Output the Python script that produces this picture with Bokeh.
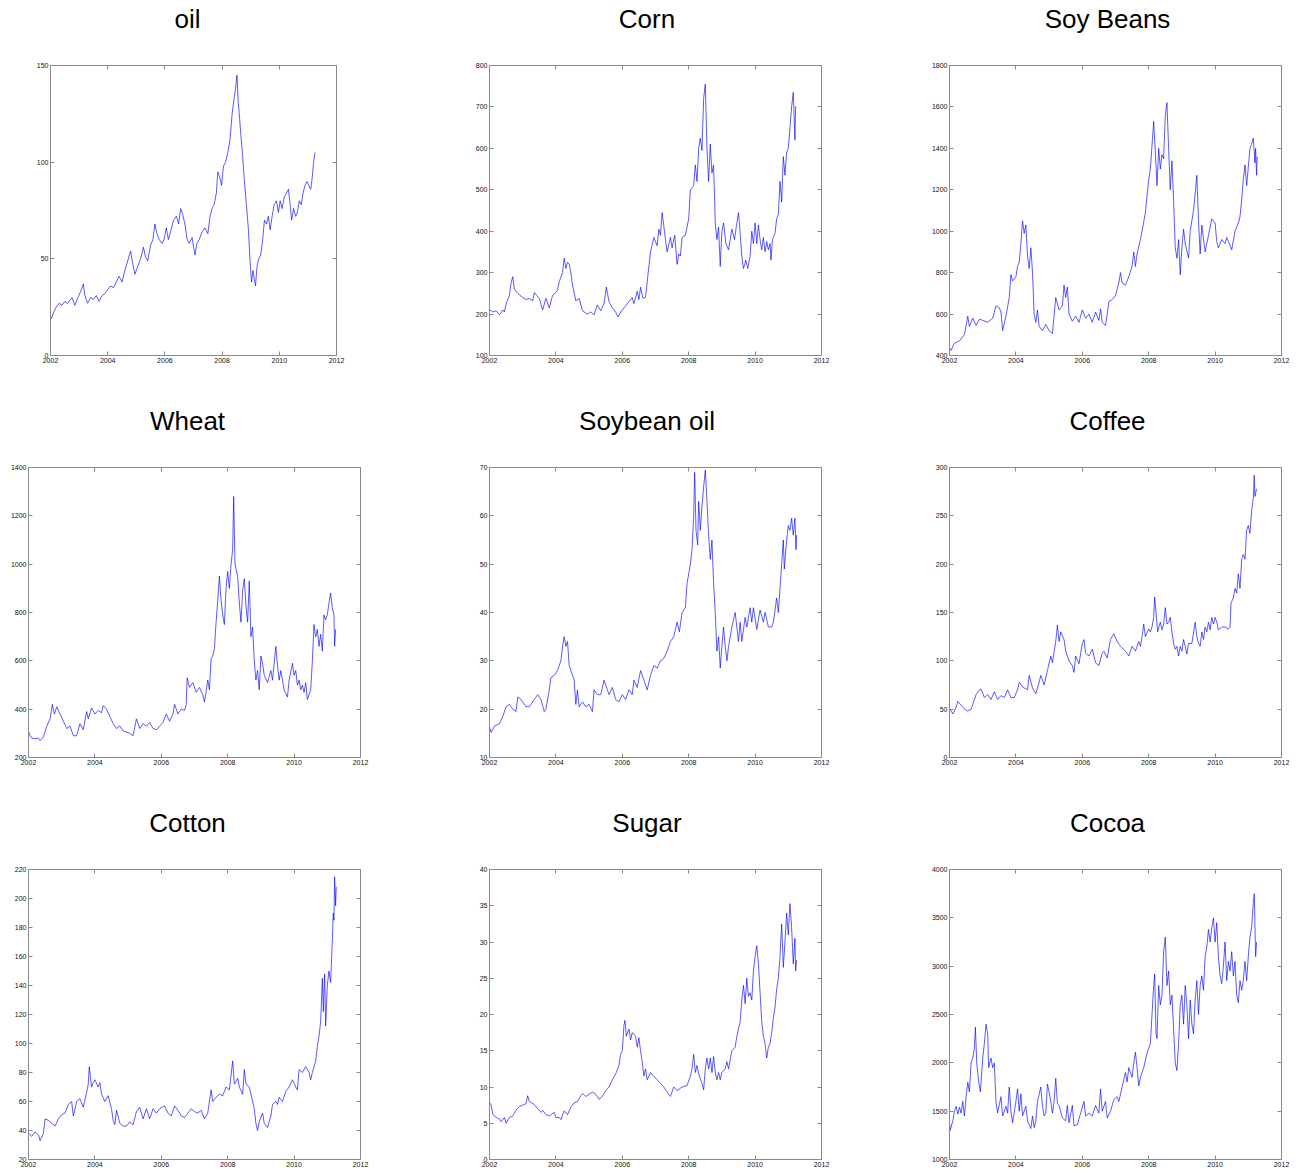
from bokeh.plotting import figure
from bokeh.models import Range1d, LinearAxis, FixedTicker, Label
from bokeh.layouts import column, row
from bokeh.embed import file_html
from bokeh.resources import INLINE

# ---------------- data ----------------
x_ticks = [2002, 2004, 2006, 2008, 2010, 2012]

oil_t = [2002.0, 2002.03, 2002.1, 2002.2, 2002.3, 2002.4, 2002.5, 2002.6, 2002.75, 2002.85, 2002.93, 2003.05, 2003.15, 2003.2, 2003.3, 2003.4, 2003.5, 2003.6, 2003.7, 2003.8, 2003.9, 2004.0, 2004.1, 2004.2, 2004.3, 2004.4, 2004.5, 2004.6, 2004.7, 2004.8, 2004.87, 2004.95, 2005.05, 2005.15, 2005.25, 2005.32, 2005.4, 2005.5, 2005.58, 2005.65, 2005.72, 2005.8, 2005.9, 2005.97, 2006.05, 2006.12, 2006.2, 2006.3, 2006.4, 2006.48, 2006.55, 2006.62, 2006.7, 2006.78, 2006.85, 2006.95, 2007.05, 2007.12, 2007.2, 2007.3, 2007.4, 2007.5, 2007.58, 2007.65, 2007.72, 2007.8, 2007.85, 2007.92, 2007.98, 2008.05, 2008.12, 2008.2, 2008.28, 2008.35, 2008.42, 2008.47, 2008.52, 2008.56, 2008.6, 2008.65, 2008.72, 2008.78, 2008.85, 2008.92, 2008.98, 2009.03, 2009.08, 2009.12, 2009.17, 2009.22, 2009.28, 2009.35, 2009.42, 2009.48, 2009.55, 2009.62, 2009.68, 2009.75, 2009.82, 2009.9, 2009.97, 2010.03, 2010.1, 2010.17, 2010.25, 2010.32, 2010.38, 2010.43, 2010.5, 2010.57, 2010.63, 2010.7, 2010.77, 2010.83, 2010.9, 2010.97, 2011.03, 2011.1, 2011.15, 2011.2, 2011.25]
oil_v = [20, 19, 22, 25, 27, 26, 28, 27, 30, 26, 29, 33, 37, 31, 27, 30, 29, 31, 28, 31, 32, 34, 36, 35, 38, 41, 38, 44, 49, 54, 48, 42, 46, 50, 56, 51, 49, 57, 60, 68, 63, 60, 58, 60, 66, 60, 64, 70, 72, 68, 76, 73, 68, 60, 58, 61, 52, 58, 60, 64, 66, 63, 72, 76, 78, 84, 95, 92, 88, 98, 100, 105, 112, 125, 133, 138, 145, 132, 125, 115, 103, 90, 78, 65, 48, 38, 44, 40, 36, 46, 50, 52, 60, 70, 68, 72, 65, 72, 78, 80, 74, 80, 76, 82, 84, 86, 78, 70, 76, 72, 74, 80, 78, 84, 88, 90, 88, 86, 92, 100, 105]

corn_t = [2002.0, 2002.1, 2002.2, 2002.3, 2002.4, 2002.45, 2002.5, 2002.6, 2002.65, 2002.7, 2002.75, 2002.85, 2003.0, 2003.1, 2003.2, 2003.3, 2003.35, 2003.42, 2003.5, 2003.6, 2003.7, 2003.8, 2003.9, 2004.0, 2004.05, 2004.1, 2004.2, 2004.25, 2004.3, 2004.35, 2004.4, 2004.45, 2004.5, 2004.6, 2004.7, 2004.8, 2004.95, 2005.05, 2005.15, 2005.25, 2005.35, 2005.45, 2005.52, 2005.6, 2005.7, 2005.8, 2005.87, 2005.95, 2006.1, 2006.2, 2006.3, 2006.35, 2006.45, 2006.5, 2006.55, 2006.62, 2006.7, 2006.78, 2006.85, 2006.95, 2007.05, 2007.1, 2007.15, 2007.2, 2007.3, 2007.35, 2007.45, 2007.5, 2007.58, 2007.65, 2007.7, 2007.75, 2007.8, 2007.9, 2008.0, 2008.05, 2008.15, 2008.2, 2008.25, 2008.3, 2008.35, 2008.4, 2008.45, 2008.5, 2008.55, 2008.6, 2008.65, 2008.7, 2008.75, 2008.8, 2008.85, 2008.9, 2008.95, 2009.0, 2009.05, 2009.12, 2009.2, 2009.3, 2009.38, 2009.45, 2009.5, 2009.55, 2009.6, 2009.65, 2009.72, 2009.78, 2009.85, 2009.9, 2009.95, 2010.0, 2010.05, 2010.1, 2010.15, 2010.2, 2010.25, 2010.3, 2010.35, 2010.4, 2010.45, 2010.48, 2010.52, 2010.6, 2010.65, 2010.7, 2010.75, 2010.8, 2010.85, 2010.9, 2010.95, 2011.0, 2011.05, 2011.1, 2011.15, 2011.2, 2011.22, 2011.25]
corn_v = [211, 205, 208, 198, 210, 205, 225, 245, 275, 290, 260, 250, 240, 235, 238, 232, 252, 245, 238, 210, 238, 215, 245, 252, 258, 278, 300, 335, 310, 325, 320, 300, 270, 232, 238, 208, 200, 205, 198, 222, 208, 225, 265, 230, 215, 205, 193, 205, 220, 230, 240, 225, 255, 235, 265, 238, 240, 300, 350, 385, 365, 405, 390, 445, 380, 350, 385, 360, 390, 320, 345, 340, 385, 390, 430, 500, 510, 560, 520, 600, 625, 595, 720, 755, 600, 520, 610, 540, 560, 420, 380, 410, 315, 400, 420, 370, 355, 405, 380, 420, 445, 395, 340, 310, 330, 310, 340, 400, 370, 420, 370, 415, 380, 355, 385, 350, 375, 355, 370, 330, 380, 395, 430, 440, 520, 470, 580, 535, 590, 600, 650, 700, 735, 620, 700, 700]

soy_t = [2002.0, 2002.05, 2002.15, 2002.3, 2002.45, 2002.55, 2002.6, 2002.7, 2002.8, 2002.9, 2003.0, 2003.15, 2003.3, 2003.4, 2003.5, 2003.55, 2003.6, 2003.7, 2003.8, 2003.85, 2003.9, 2004.0, 2004.05, 2004.1, 2004.15, 2004.2, 2004.25, 2004.3, 2004.35, 2004.4, 2004.45, 2004.5, 2004.55, 2004.6, 2004.65, 2004.7, 2004.8, 2004.9, 2005.0, 2005.1, 2005.2, 2005.3, 2005.4, 2005.45, 2005.5, 2005.55, 2005.6, 2005.7, 2005.8, 2005.9, 2006.0, 2006.1, 2006.2, 2006.3, 2006.4, 2006.5, 2006.55, 2006.6, 2006.7, 2006.8, 2006.9, 2007.0, 2007.1, 2007.15, 2007.2, 2007.3, 2007.4, 2007.5, 2007.55, 2007.6, 2007.65, 2007.75, 2007.8, 2007.9, 2008.0, 2008.05, 2008.15, 2008.2, 2008.25, 2008.3, 2008.35, 2008.4, 2008.45, 2008.5, 2008.55, 2008.6, 2008.65, 2008.7, 2008.75, 2008.8, 2008.85, 2008.9, 2008.95, 2009.0, 2009.05, 2009.1, 2009.2, 2009.25, 2009.35, 2009.45, 2009.5, 2009.55, 2009.6, 2009.7, 2009.8, 2009.9, 2010.0, 2010.05, 2010.1, 2010.2, 2010.3, 2010.35, 2010.45, 2010.5, 2010.6, 2010.7, 2010.75, 2010.8, 2010.85, 2010.9, 2010.95, 2011.0, 2011.05, 2011.1, 2011.15, 2011.2, 2011.22, 2011.25, 2011.27]
soy_v = [437, 425, 460, 470, 500, 590, 540, 580, 545, 575, 570, 560, 580, 640, 630, 610, 520, 590, 680, 790, 760, 780, 830, 850, 940, 1050, 990, 1030, 880, 820, 920, 800, 600, 560, 620, 540, 520, 550, 520, 505, 680, 620, 640, 740, 680, 730, 600, 565, 590, 560, 620, 580, 600, 560, 610, 570, 625, 560, 545, 660, 670, 690, 750, 800, 750, 740, 780, 830, 900, 830, 890, 960, 1000, 1090, 1250, 1300, 1530, 1380, 1220, 1400, 1300, 1370, 1350, 1560, 1620, 1400, 1200, 1340, 1150, 920, 870, 960, 790, 920, 1010, 940, 870, 1000, 1100, 1270, 1050, 890, 1030, 900, 980, 1060, 1040, 950, 920, 960, 940, 970, 930, 910, 1000, 1040, 1070, 1150, 1250, 1320, 1220, 1310, 1400, 1420, 1450, 1330, 1400, 1270, 1360]

wheat_t = [2002.0, 2002.05, 2002.1, 2002.2, 2002.3, 2002.35, 2002.45, 2002.55, 2002.65, 2002.72, 2002.78, 2002.85, 2002.95, 2003.05, 2003.15, 2003.25, 2003.35, 2003.45, 2003.55, 2003.65, 2003.75, 2003.8, 2003.9, 2004.0, 2004.1, 2004.2, 2004.25, 2004.35, 2004.45, 2004.55, 2004.65, 2004.75, 2004.85, 2004.95, 2005.05, 2005.15, 2005.25, 2005.35, 2005.45, 2005.55, 2005.65, 2005.75, 2005.85, 2005.95, 2006.05, 2006.15, 2006.25, 2006.35, 2006.4, 2006.5, 2006.6, 2006.7, 2006.75, 2006.78, 2006.85, 2006.95, 2007.05, 2007.15, 2007.25, 2007.3, 2007.4, 2007.45, 2007.5, 2007.55, 2007.6, 2007.65, 2007.7, 2007.75, 2007.8, 2007.85, 2007.9, 2007.95, 2008.0, 2008.05, 2008.1, 2008.15, 2008.18, 2008.22, 2008.3, 2008.35, 2008.4, 2008.45, 2008.5, 2008.55, 2008.6, 2008.65, 2008.7, 2008.75, 2008.8, 2008.85, 2008.9, 2008.95, 2009.0, 2009.05, 2009.1, 2009.2, 2009.3, 2009.35, 2009.45, 2009.5, 2009.55, 2009.6, 2009.7, 2009.8, 2009.85, 2009.95, 2010.0, 2010.05, 2010.1, 2010.15, 2010.2, 2010.25, 2010.3, 2010.35, 2010.4, 2010.5, 2010.55, 2010.6, 2010.65, 2010.7, 2010.75, 2010.8, 2010.85, 2010.9, 2010.95, 2011.0, 2011.05, 2011.1, 2011.15, 2011.2, 2011.22, 2011.25]
wheat_v = [307, 290, 280, 278, 280, 270, 285, 330, 360, 420, 380, 410, 380, 350, 320, 330, 290, 290, 340, 315, 390, 360, 405, 380, 395, 385, 415, 400, 370, 340, 320, 330, 310, 305, 300, 290, 360, 320, 340, 330, 345, 320, 315, 330, 345, 380, 350, 380, 420, 380, 400, 395, 420, 530, 490, 510, 470, 490, 460, 430, 520, 480, 610, 620, 650, 760, 850, 950, 850, 790, 750, 900, 970, 900, 1000, 1060, 1280, 1000, 950, 840, 760, 890, 940, 830, 760, 930, 700, 740, 600, 520, 560, 480, 620, 590, 540, 510, 560, 520, 660, 580, 520, 560, 480, 450, 520, 590, 540, 560, 500, 520, 480, 500, 470, 510, 440, 480, 600, 750, 700, 730, 660, 710, 640, 790, 770, 790, 840, 880, 820, 790, 660, 730]

sboil_t = [2002.0, 2002.05, 2002.15, 2002.3, 2002.4, 2002.5, 2002.6, 2002.7, 2002.8, 2002.85, 2002.95, 2003.1, 2003.2, 2003.35, 2003.45, 2003.55, 2003.65, 2003.7, 2003.8, 2003.85, 2003.95, 2004.05, 2004.15, 2004.2, 2004.25, 2004.3, 2004.35, 2004.4, 2004.45, 2004.55, 2004.6, 2004.65, 2004.7, 2004.8, 2004.9, 2005.0, 2005.1, 2005.15, 2005.25, 2005.35, 2005.45, 2005.55, 2005.6, 2005.7, 2005.8, 2005.9, 2006.0, 2006.1, 2006.2, 2006.3, 2006.35, 2006.45, 2006.55, 2006.65, 2006.75, 2006.85, 2006.95, 2007.05, 2007.15, 2007.25, 2007.35, 2007.45, 2007.55, 2007.65, 2007.72, 2007.8, 2007.9, 2007.95, 2008.05, 2008.1, 2008.15, 2008.18, 2008.22, 2008.27, 2008.3, 2008.35, 2008.4, 2008.45, 2008.5, 2008.55, 2008.6, 2008.65, 2008.7, 2008.75, 2008.8, 2008.85, 2008.9, 2008.95, 2009.0, 2009.05, 2009.1, 2009.15, 2009.2, 2009.3, 2009.4, 2009.5, 2009.55, 2009.6, 2009.7, 2009.75, 2009.85, 2009.9, 2009.95, 2010.05, 2010.15, 2010.25, 2010.3, 2010.4, 2010.5, 2010.55, 2010.65, 2010.7, 2010.75, 2010.8, 2010.85, 2010.88, 2010.95, 2011.0, 2011.05, 2011.1, 2011.15, 2011.2, 2011.23, 2011.25]
sboil_v = [16.3, 15.2, 16.5, 17, 18.5, 20.5, 21, 20, 19.5, 22.5, 22, 20.5, 20.5, 22, 23, 22, 19.5, 20, 24, 26.5, 27, 28, 30, 33, 35, 33, 34, 29, 28, 26, 21, 24, 20.5, 21.5, 20.5, 21, 19.5, 24, 23, 23, 26, 24, 23, 24.5, 22, 21.5, 23, 22, 24, 23, 26, 24.5, 28, 26, 24, 27, 29, 28.5, 30, 30.5, 32, 34, 35, 38, 36, 40, 41, 46, 50, 53, 60, 69, 57, 54, 63, 57, 62, 66, 69.5, 63, 56, 51, 55, 46, 40, 32, 35, 28.5, 33, 37, 33, 30, 33, 37, 40, 34, 38, 34, 39, 37, 41, 38, 41, 36.5, 40.5, 38, 40, 37, 37, 38, 43, 40, 45, 50, 55, 49, 55, 58, 57, 59.5, 56, 59.5, 53, 56]

coffee_t = [2002.0, 2002.1, 2002.2, 2002.25, 2002.35, 2002.45, 2002.55, 2002.65, 2002.7, 2002.8, 2002.9, 2002.95, 2003.05, 2003.15, 2003.25, 2003.35, 2003.45, 2003.55, 2003.65, 2003.75, 2003.85, 2003.95, 2004.05, 2004.1, 2004.2, 2004.35, 2004.4, 2004.5, 2004.6, 2004.7, 2004.75, 2004.85, 2004.95, 2005.05, 2005.1, 2005.2, 2005.25, 2005.3, 2005.35, 2005.45, 2005.5, 2005.6, 2005.7, 2005.75, 2005.8, 2005.9, 2006.0, 2006.05, 2006.1, 2006.2, 2006.3, 2006.4, 2006.5, 2006.6, 2006.65, 2006.75, 2006.85, 2006.95, 2007.05, 2007.15, 2007.3, 2007.4, 2007.5, 2007.6, 2007.7, 2007.75, 2007.8, 2007.85, 2007.9, 2008.0, 2008.05, 2008.1, 2008.15, 2008.18, 2008.22, 2008.27, 2008.35, 2008.4, 2008.45, 2008.5, 2008.55, 2008.6, 2008.65, 2008.7, 2008.75, 2008.8, 2008.85, 2008.9, 2008.95, 2009.0, 2009.05, 2009.1, 2009.15, 2009.2, 2009.3, 2009.4, 2009.45, 2009.5, 2009.55, 2009.6, 2009.65, 2009.7, 2009.75, 2009.8, 2009.85, 2009.9, 2009.95, 2010.0, 2010.05, 2010.1, 2010.2, 2010.3, 2010.4, 2010.45, 2010.48, 2010.55, 2010.6, 2010.65, 2010.7, 2010.75, 2010.8, 2010.85, 2010.9, 2010.95, 2011.0, 2011.05, 2011.1, 2011.15, 2011.18, 2011.2, 2011.25]
coffee_v = [51, 45, 52, 58, 54, 50, 48, 50, 55, 65, 70, 71, 62, 65, 60, 68, 60, 64, 62, 70, 62, 62, 70, 78, 73, 70, 85, 72, 66, 78, 85, 75, 90, 105, 98, 120, 137, 120, 130, 122, 110, 100, 95, 88, 105, 97, 118, 122, 108, 105, 112, 98, 95, 108, 110, 103, 122, 128, 120, 115, 110, 105, 115, 110, 120, 115, 125, 138, 125, 133, 130, 135, 145, 166, 150, 130, 140, 132, 138, 155, 138, 140, 145, 130, 118, 112, 115, 105, 115, 110, 122, 115, 107, 118, 118, 140, 125, 118, 115, 130, 122, 135, 130, 140, 132, 145, 138, 145, 140, 132, 135, 135, 133, 135, 160, 165, 175, 170, 190, 175, 205, 210, 205, 235, 240, 232, 255, 268, 292, 270, 278]

cotton_t = [2002.0, 2002.1, 2002.2, 2002.3, 2002.35, 2002.45, 2002.5, 2002.6, 2002.7, 2002.8, 2002.9, 2003.0, 2003.1, 2003.2, 2003.3, 2003.35, 2003.45, 2003.55, 2003.65, 2003.75, 2003.8, 2003.83, 2003.9, 2003.95, 2004.0, 2004.1, 2004.15, 2004.2, 2004.3, 2004.4, 2004.5, 2004.55, 2004.6, 2004.65, 2004.75, 2004.85, 2004.95, 2005.05, 2005.15, 2005.25, 2005.35, 2005.45, 2005.55, 2005.65, 2005.75, 2005.85, 2005.95, 2006.1, 2006.2, 2006.3, 2006.4, 2006.5, 2006.6, 2006.7, 2006.8, 2006.9, 2007.0, 2007.1, 2007.2, 2007.3, 2007.4, 2007.5, 2007.55, 2007.65, 2007.75, 2007.85, 2007.95, 2008.05, 2008.15, 2008.2, 2008.3, 2008.35, 2008.45, 2008.5, 2008.55, 2008.65, 2008.75, 2008.8, 2008.85, 2008.9, 2008.95, 2009.05, 2009.1, 2009.2, 2009.3, 2009.35, 2009.45, 2009.5, 2009.55, 2009.65, 2009.75, 2009.85, 2009.95, 2010.05, 2010.1, 2010.15, 2010.25, 2010.35, 2010.45, 2010.5, 2010.55, 2010.65, 2010.7, 2010.75, 2010.8, 2010.85, 2010.88, 2010.92, 2010.95, 2011.0, 2011.05, 2011.1, 2011.15, 2011.18, 2011.2, 2011.22, 2011.25, 2011.27]
cotton_v = [38, 36, 39, 37, 33, 38, 48, 47, 45, 43, 48, 51, 52, 58, 60, 50, 60, 62, 56, 66, 72, 84, 70, 73, 75, 70, 73, 65, 60, 64, 55, 47, 44, 54, 45, 43, 43, 46, 44, 53, 56, 48, 55, 48, 55, 52, 55, 57, 52, 50, 57, 54, 50, 49, 52, 55, 53, 52, 54, 48, 52, 68, 60, 63, 65, 64, 70, 68, 88, 72, 76, 70, 65, 82, 72, 70, 60, 55, 45, 40, 46, 52, 45, 42, 50, 58, 60, 58, 63, 60, 67, 70, 75, 70, 68, 82, 80, 84, 80, 75, 80, 88, 98, 105, 115, 145, 122, 148, 112, 140, 150, 142, 170, 190, 185, 215, 195, 208]

sugar_t = [2002.0, 2002.05, 2002.1, 2002.2, 2002.3, 2002.35, 2002.45, 2002.5, 2002.6, 2002.7, 2002.8, 2002.9, 2003.0, 2003.1, 2003.15, 2003.2, 2003.35, 2003.45, 2003.55, 2003.6, 2003.7, 2003.8, 2003.95, 2004.0, 2004.1, 2004.15, 2004.25, 2004.35, 2004.45, 2004.55, 2004.65, 2004.75, 2004.8, 2004.9, 2005.0, 2005.1, 2005.2, 2005.3, 2005.4, 2005.5, 2005.6, 2005.7, 2005.8, 2005.9, 2005.95, 2006.0, 2006.05, 2006.08, 2006.12, 2006.2, 2006.25, 2006.3, 2006.4, 2006.45, 2006.5, 2006.55, 2006.6, 2006.65, 2006.7, 2006.75, 2006.85, 2006.95, 2007.05, 2007.15, 2007.25, 2007.35, 2007.45, 2007.55, 2007.65, 2007.8, 2007.95, 2008.05, 2008.1, 2008.15, 2008.2, 2008.25, 2008.3, 2008.4, 2008.45, 2008.5, 2008.55, 2008.6, 2008.65, 2008.7, 2008.75, 2008.8, 2008.85, 2008.9, 2008.95, 2009.0, 2009.1, 2009.15, 2009.2, 2009.3, 2009.4, 2009.45, 2009.55, 2009.6, 2009.65, 2009.7, 2009.75, 2009.8, 2009.85, 2009.9, 2009.95, 2010.0, 2010.05, 2010.1, 2010.15, 2010.2, 2010.25, 2010.3, 2010.35, 2010.4, 2010.45, 2010.5, 2010.55, 2010.6, 2010.65, 2010.7, 2010.75, 2010.8, 2010.85, 2010.9, 2010.95, 2011.0, 2011.05, 2011.1, 2011.15, 2011.2, 2011.22, 2011.25]
sugar_v = [7.9, 7.5, 6.2, 5.8, 5.6, 5.2, 5.8, 5.0, 5.8, 6.0, 6.8, 7.3, 7.5, 7.7, 8.8, 8.0, 7.6, 7.0, 6.5, 6.8, 6.2, 6.0, 6.5, 5.8, 5.8, 5.5, 6.7, 6.2, 7.2, 7.8, 8.0, 8.8, 9.1, 8.7, 9.0, 9.3, 9.0, 8.3, 8.7, 9.5, 10.0, 11.0, 11.8, 13.0, 14.5, 15.0, 18.5, 19.2, 17.0, 18.0, 16.5, 17.5, 17.0, 15.5, 16.8, 15.0, 13.5, 11.5, 12.5, 11.0, 12.0, 11.5, 11.0, 10.5, 10.0, 9.3, 8.7, 10.0, 9.5, 10.0, 10.2, 11.5, 12.5, 14.5, 12.0, 13.0, 11.8, 10.5, 9.6, 12.5, 14.0, 12.5, 14.0, 12.0, 14.2, 12.0, 11.0, 12.0, 11.0, 12.0, 12.5, 13.5, 12.5, 15.0, 15.5, 17.0, 19.0, 22.0, 24.0, 21.5, 25.0, 22.5, 23.0, 22.0, 26.0, 28.0, 29.5, 27.0, 23.0, 19.0, 17.0, 16.0, 14.0, 15.5, 16.0, 17.5, 19.5, 21.0, 23.5, 25.0, 28.0, 32.5, 26.5, 30.0, 34.0, 31.0, 35.3, 32.0, 27.0, 30.5, 26.0, 27.5]

cocoa_t = [2002.0, 2002.02, 2002.1, 2002.15, 2002.2, 2002.25, 2002.3, 2002.35, 2002.4, 2002.45, 2002.5, 2002.55, 2002.6, 2002.65, 2002.7, 2002.75, 2002.78, 2002.82, 2002.88, 2002.93, 2003.0, 2003.05, 2003.1, 2003.15, 2003.18, 2003.25, 2003.3, 2003.35, 2003.4, 2003.45, 2003.55, 2003.6, 2003.7, 2003.75, 2003.8, 2003.85, 2003.9, 2004.0, 2004.05, 2004.1, 2004.15, 2004.2, 2004.3, 2004.35, 2004.45, 2004.5, 2004.55, 2004.6, 2004.65, 2004.75, 2004.8, 2004.85, 2004.9, 2004.95, 2005.0, 2005.05, 2005.1, 2005.15, 2005.2, 2005.25, 2005.3, 2005.4, 2005.5, 2005.55, 2005.6, 2005.7, 2005.75, 2005.85, 2005.95, 2006.05, 2006.1, 2006.2, 2006.3, 2006.4, 2006.5, 2006.55, 2006.6, 2006.7, 2006.75, 2006.85, 2006.95, 2007.05, 2007.1, 2007.2, 2007.3, 2007.35, 2007.4, 2007.5, 2007.55, 2007.6, 2007.65, 2007.7, 2007.75, 2007.85, 2007.95, 2008.05, 2008.1, 2008.15, 2008.18, 2008.22, 2008.25, 2008.3, 2008.35, 2008.4, 2008.45, 2008.5, 2008.55, 2008.6, 2008.65, 2008.7, 2008.75, 2008.8, 2008.85, 2008.9, 2008.95, 2009.0, 2009.05, 2009.1, 2009.15, 2009.2, 2009.25, 2009.3, 2009.35, 2009.4, 2009.45, 2009.5, 2009.55, 2009.6, 2009.65, 2009.7, 2009.75, 2009.8, 2009.85, 2009.9, 2009.95, 2010.0, 2010.05, 2010.1, 2010.15, 2010.2, 2010.25, 2010.3, 2010.35, 2010.4, 2010.45, 2010.5, 2010.55, 2010.6, 2010.65, 2010.7, 2010.75, 2010.8, 2010.85, 2010.9, 2010.95, 2011.0, 2011.05, 2011.1, 2011.15, 2011.18, 2011.22, 2011.25]
cocoa_v = [1389, 1300, 1400, 1500, 1550, 1470, 1540, 1480, 1600, 1450, 1650, 1800, 1700, 2000, 2050, 2150, 2370, 2000, 1800, 1700, 2050, 2200, 2400, 2300, 1950, 2050, 1950, 2000, 1600, 1480, 1650, 1450, 1550, 1480, 1750, 1500, 1380, 1600, 1730, 1500, 1680, 1450, 1550, 1400, 1320, 1450, 1330, 1400, 1600, 1750, 1550, 1450, 1480, 1780, 1700, 1600, 1480, 1600, 1840, 1580, 1560, 1430, 1400, 1560, 1380, 1560, 1350, 1360, 1480, 1600, 1450, 1480, 1450, 1560, 1480, 1730, 1500, 1600, 1430, 1500, 1620, 1650, 1600, 1750, 1900, 1800, 1950, 1850, 2000, 2110, 1950, 1760, 1850, 1950, 2100, 2200, 2500, 2800, 2920, 2300, 2250, 2800, 2600, 2700, 3150, 3300, 2800, 2950, 2600, 2700, 2350, 2000, 1920, 2200, 2600, 2700, 2400, 2800, 2600, 2250, 2650, 2400, 2300, 2650, 2850, 2500, 2800, 2900, 2750, 3100, 3200, 3380, 3250, 3400, 3500, 3250, 3450, 3100, 2900, 2820, 3000, 3250, 2850, 3050, 2950, 3150, 2900, 3050, 2700, 2620, 2850, 2750, 2850, 3050, 2850, 3100, 3300, 3400, 3650, 3750, 3100, 3250]

titles = ["oil", "Corn", "Soy Beans", "Wheat", "Soybean oil", "Coffee", "Cotton", "Sugar", "Cocoa"]
series = [(oil_t, oil_v), (corn_t, corn_v), (soy_t, soy_v),
          (wheat_t, wheat_v), (sboil_t, sboil_v), (coffee_t, coffee_v),
          (cotton_t, cotton_v), (sugar_t, sugar_v), (cocoa_t, cocoa_v)]
y_ticks = [[0, 50, 100, 150],
           [100, 200, 300, 400, 500, 600, 700, 800],
           [400, 600, 800, 1000, 1200, 1400, 1600, 1800],
           [200, 400, 600, 800, 1000, 1200, 1400],
           [10, 20, 30, 40, 50, 60, 70],
           [0, 50, 100, 150, 200, 250, 300],
           [20, 40, 60, 80, 100, 120, 140, 160, 180, 200, 220],
           [0, 5, 10, 15, 20, 25, 30, 35, 40],
           [1000, 1500, 2000, 2500, 3000, 3500, 4000]]

# ---------------- layout / style ----------------
FONT = "Liberation Sans"
TITLE_PX = 26
TITLE_RISE = 47          # label anchor above the frame top (px); lands the baseline ~37px above
AXIS_GRAY = "#8a8a8a"
LABEL_COL = "#111111"
LINE_COL = "#0000ff"

col_fig_w = [458, 460, 378]
col_page_x = [0, 458, 918]
title_cx = [187, 646.5, 1107]
PLOT_TOP = 8             # border above each frame inside the plot figure
# per row: (title strip height, frame_h, bottom border)
row_geom = [(57, 290, 25), (79, 290, 25), (79, 290, 12)]
# (min_border_left, frame_w) per cell
cell_lr = [[(50, 286), (31, 332), (31, 332)],
           [(28, 332), (31, 332), (31, 332)],
           [(28, 332), (31, 332), (31, 332)]]


def style_axis(ax, show_labels):
    ax.axis_line_color = AXIS_GRAY
    ax.major_tick_line_color = AXIS_GRAY
    ax.major_tick_in = 4
    ax.major_tick_out = 0
    ax.minor_tick_line_color = None
    ax.major_label_text_font = FONT
    if show_labels:
        ax.major_label_text_font_size = "7px"
        ax.major_label_text_color = LABEL_COL
        ax.major_label_standoff = 2
    else:
        ax.major_label_text_font_size = "0px"
        ax.major_label_text_color = None
        ax.major_label_standoff = 0


blocks = []
for r in range(3):
    strip_h, fh, bot = row_geom[r]
    title_figs, plot_figs = [], []
    for c in range(3):
        k = r * 3 + c
        left, fw = cell_lr[r][c]
        W = col_fig_w[c]

        # --- title strip: ranges in pixels so the text lands where the reference has it
        tf = figure(width=W, height=strip_h, x_range=Range1d(0, W), y_range=Range1d(0, strip_h),
                    output_backend="svg", toolbar_location=None, title=None,
                    x_axis_location=None, y_axis_location=None,
                    min_border=0)
        tf.grid.visible = False
        tf.outline_line_color = None
        tf.background_fill_color = "white"
        tf.border_fill_color = "white"
        baseline_from_bottom = TITLE_RISE - PLOT_TOP
        tf.add_layout(Label(x=title_cx[c] - col_page_x[c], y=baseline_from_bottom,
                            text=titles[k], text_align="center", text_baseline="alphabetic",
                            text_font=FONT, text_font_size=f"{TITLE_PX}px",
                            text_color="black"))
        title_figs.append(tf)

        # --- the chart itself
        right = W - left - fw
        H = PLOT_TOP + fh + bot
        yt = y_ticks[k]
        y0, y1 = yt[0], yt[-1]
        p = figure(width=W, height=H, title=None,
                   x_range=Range1d(2002, 2012), y_range=Range1d(y0, y1),
                   output_backend="svg", toolbar_location=None,
                   min_border_left=left, min_border_right=right,
                   min_border_top=PLOT_TOP, min_border_bottom=bot)
        p.background_fill_color = "white"
        p.border_fill_color = "white"
        p.outline_line_color = AXIS_GRAY
        p.grid.visible = False

        p.xaxis.ticker = FixedTicker(ticks=x_ticks)
        p.yaxis.ticker = FixedTicker(ticks=yt)
        style_axis(p.xaxis[0], True)
        style_axis(p.yaxis[0], True)

        ax_top = LinearAxis(ticker=FixedTicker(ticks=x_ticks))
        style_axis(ax_top, False)
        p.add_layout(ax_top, "above")
        ax_right = LinearAxis(ticker=FixedTicker(ticks=yt))
        style_axis(ax_right, False)
        p.add_layout(ax_right, "right")

        t, v = series[k]
        p.line(t, v, line_color=LINE_COL, line_width=0.65)
        plot_figs.append(p)
    blocks.append(row(*title_figs))
    blocks.append(row(*plot_figs))

layout = column(*blocks)

open("out.html", "w").write(file_html(layout, INLINE))
